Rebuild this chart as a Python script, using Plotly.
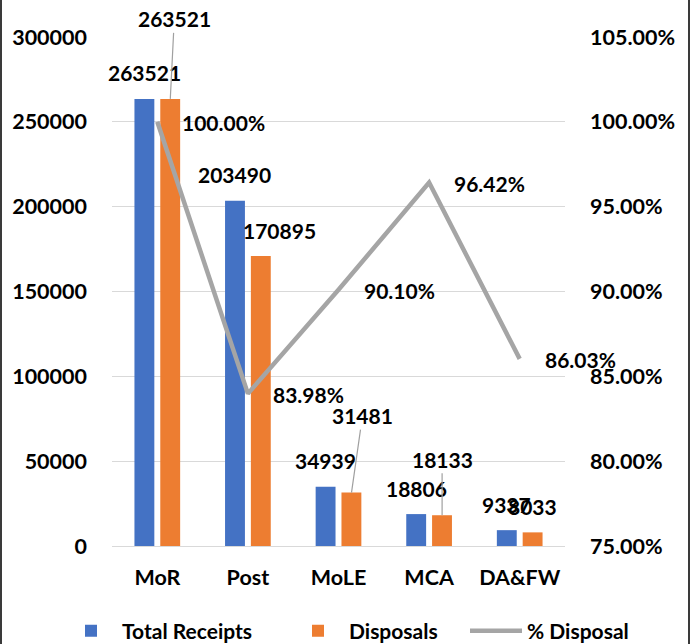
import plotly.graph_objects as go

categories = ["MoR", "Post", "MoLE", "MCA", "DA&FW"]
total_receipts = [263521, 203490, 34939, 18806, 9337]
disposals = [263521, 170895, 31481, 18133, 8033]
pct_disposal = [1.0000, 0.8398, 0.9010, 0.9642, 0.8603]

left_ticks = [0, 50000, 100000, 150000, 200000, 250000, 300000]
right_ticks = [0.75, 0.80, 0.85, 0.90, 0.95, 1.00, 1.05]

BLUE = "#4472C4"
ORANGE = "#ED7D31"
GRAY = "#A5A5A5"
FONT = "Lato"

W, H = 691, 644
ML, MR, MT, MB = 112, 126, 37, 98
PW, PH = W - ML - MR, H - MT - MB

fig = go.Figure()
fig.add_trace(go.Bar(name="Total Receipts", x=categories, y=total_receipts, legend="legend",
                     marker=dict(color=BLUE, line=dict(width=0))))
fig.add_trace(go.Bar(name="Disposals", x=categories, y=disposals, legend="legend2",
                     marker=dict(color=ORANGE, line=dict(width=0))))
fig.add_trace(go.Scatter(name="% Disposal", x=categories, y=pct_disposal, yaxis="y2",
                         legend="legend3", mode="lines", line=dict(color=GRAY, width=4.5)))

lab_font = dict(family=FONT, size=21, color="black", weight="bold")
ann = []
# Total receipts labels: centered above blue bars
for c, v in zip(categories, total_receipts):
    ann.append(dict(x=c, y=v, xref="x", yref="y", text=str(v), showarrow=False,
                    xanchor="center", yanchor="middle", xshift=-13, yshift=26, font=lab_font))
# Disposals labels (some moved with leader lines)
disp_pos = {
    "MoR": dict(arrow=True, ax=4, ay=-80),
    "Post": dict(arrow=False, dx=19, dy=26),
    "MoLE": dict(arrow=True, ax=11, ay=-77),
    "MCA": dict(arrow=True, ax=0, ay=-56),
    "DA&FW": dict(arrow=False, dx=0, dy=26),
}
for c, v in zip(categories, disposals):
    p = disp_pos[c]
    if p["arrow"]:
        ann.append(dict(x=c, y=v, xref="x", yref="y", text=str(v), showarrow=True,
                        arrowhead=0, arrowwidth=1.2, arrowcolor="#A0A0A0",
                        ax=p["ax"], ay=p["ay"], xshift=13, standoff=0, font=lab_font))
    else:
        ann.append(dict(x=c, y=v, xref="x", yref="y", text=str(v), showarrow=False,
                        xanchor="center", yanchor="middle", xshift=13 + p["dx"],
                        yshift=p["dy"], font=lab_font))
# percentage labels right of the points
for c, v in zip(categories, pct_disposal):
    ann.append(dict(x=c, y=v, xref="x", yref="y2", text=f"{v*100:.2f}%", showarrow=False,
                    xanchor="left", yanchor="middle", xshift=23, yshift=-1, font=lab_font))

shapes = []
for px in (1, 689):
    xp = (px - ML) / PW
    shapes.append(dict(type="line", xref="paper", yref="paper", x0=xp, x1=xp,
                       y0=-MB / PH, y1=1 + MT / PH, line=dict(color="#3A3A3A", width=2)))

tick_font = dict(family=FONT, size=21.5, color="black", weight="bold")


def legend_at(px):
    return dict(orientation="h", xref="container", yref="container", x=px / W, xanchor="left",
                y=(H - 631) / H, yanchor="middle", itemwidth=52, bgcolor="rgba(0,0,0,0)",
                font=dict(family=FONT, size=21, color="black", weight="bold"))


fig.update_layout(
    width=W, height=H,
    margin=dict(l=ML, r=MR, t=MT, b=MB, autoexpand=False),
    paper_bgcolor="white", plot_bgcolor="white",
    barmode="group", bargap=0.43, bargroupgap=0.23,
    font=dict(family=FONT, color="black"),
    showlegend=True,
    xaxis=dict(type="category", categoryorder="array", categoryarray=categories,
               range=[-0.5, len(categories) - 0.5], tickfont=tick_font,
               showgrid=False, showline=False, ticks="", ticklabelstandoff=16, automargin=False),
    yaxis=dict(range=[0, 300000], tickvals=left_ticks, tickformat="d", tickfont=tick_font,
               showgrid=True, gridcolor="#D9D9D9", gridwidth=1, zeroline=True,
               zerolinecolor="#D9D9D9", zerolinewidth=1, showline=False, ticks="",
               ticklabelstandoff=24, automargin=False),
    yaxis2=dict(range=[0.75, 1.05], tickvals=right_ticks, tickformat=".2%", tickfont=tick_font,
                overlaying="y", side="right", showgrid=False, zeroline=False, showline=False,
                ticks="", ticklabelstandoff=24, automargin=False),
    legend=legend_at(60),
    legend2=legend_at(287),
    legend3=legend_at(465),
    annotations=ann,
    shapes=shapes,
)

fig.write_html("out.html", config={"displayModeBar": False},
               post_script="document.body.style.margin='0px';")
